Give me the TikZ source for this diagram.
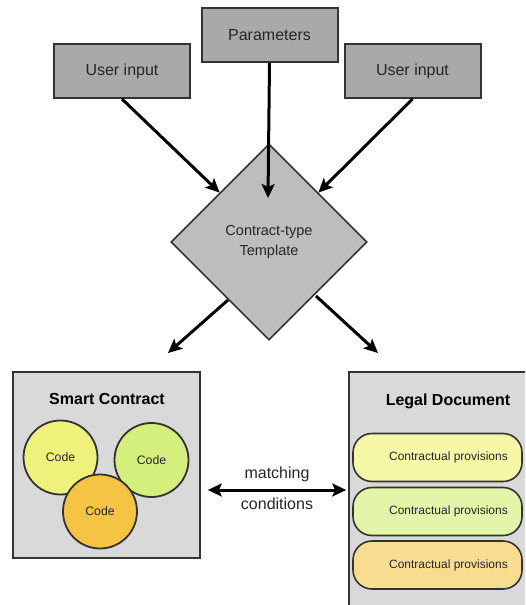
\documentclass[tikz,border=0pt]{standalone}
\usepackage{fontspec}
\setmainfont{Liberation Sans}
\usetikzlibrary{shapes.geometric,arrows.meta}
\definecolor{topgray}{HTML}{A9A9A9}
\definecolor{diagray}{HTML}{BDBDBD}
\definecolor{boxgray}{HTML}{D9D9D9}
\definecolor{edge}{HTML}{333333}
\definecolor{txt}{HTML}{262626}
\definecolor{cyel}{HTML}{EEF27A}
\definecolor{cgrn}{HTML}{D4EF7E}
\definecolor{corg}{HTML}{F5C443}
\definecolor{pyel}{HTML}{F7F7A8}
\definecolor{pgrn}{HTML}{E2F5A8}
\definecolor{porg}{HTML}{F8DC90}
\begin{document}
\begin{tikzpicture}[x=1pt,y=-1pt,
  topbox/.style={draw=edge,line width=2pt,fill=topgray,minimum width=136pt,minimum height=54pt,inner sep=0pt,text=txt,font=\fontsize{16}{19}\selectfont},
  bigbox/.style={draw=edge,line width=1.6pt,fill=boxgray,inner sep=0pt},
  title/.style={text=black,font=\bfseries\fontsize{16}{19}\selectfont},
  codec/.style={circle,draw=edge,line width=1.8pt,minimum size=74pt,inner sep=0pt,text=txt,font=\fontsize{12.3}{14}\selectfont},
  pill/.style={draw=edge,line width=1.6pt,rounded corners=19pt,minimum width=169pt,minimum height=48pt,inner sep=0pt},
  ptext/.style={text=txt,font=\fontsize{12}{14}\selectfont},
  arr/.style={line width=3pt,-{Stealth[length=14pt,width=13pt,inset=3pt]}},
  darr/.style={line width=3pt,{Stealth[length=14pt,width=13pt,inset=3pt]}-{Stealth[length=14pt,width=13pt,inset=3pt]}}
]
\useasboundingbox (0,0) rectangle (525,605);
\clip (0,0) rectangle (525,605);
\fill[white] (0,0) rectangle (525,605);

\node[topbox] (par) at (269.5,35) {Parameters};
\node[topbox] (ul) at (122,71) {User input};
\node[topbox] (ur) at (412.5,71) {User input};

\node[diamond,aspect=1,draw=edge,line width=1.6pt,fill=diagray,minimum width=196pt,minimum height=196pt,inner sep=0pt,text=txt,align=center,font=\fontsize{14.5}{20}\selectfont] (tpl) at (269,242) {Contract-type\\Template};

\coordinate (pend) at (268,198);
\draw[arr] (ul.south) -- (tpl.north west);
\draw[arr] (ur.south) -- (tpl.north east);
\draw[arr] (par.south) -- (pend);

\coordinate (lend) at (168,353);
\coordinate (rend) at (378,353);
\coordinate (lsta) at (228,300);
\coordinate (rsta) at (316,296);
\draw[arr] (lsta) -- (lend);
\draw[arr] (rsta) -- (rend);

\node[bigbox,minimum width=187pt,minimum height=186pt] (sc) at (106.5,465) {};
\node[title] (sct) at (107,399) {Smart Contract};
\node[codec,fill=cyel] (c1) at (60.5,457.5) {Code};
\node[codec,fill=cgrn] (c2) at (151.5,460) {Code};
\node[codec,fill=corg] (c3) at (100,511.5) {Code};

\node[bigbox,minimum width=198pt,minimum height=250pt] (ld) at (448,497) {};
\node[title] (ldt) at (448,401) {Legal Document};
\node[pill,fill=pyel] (p1) at (437.5,457.5) {};
\node[pill,fill=pgrn] (p2) at (437.5,511.5) {};
\node[pill,fill=porg] (p3) at (437.5,565) {};
\node[ptext] (t1) at (448.5,457.5) {Contractual provisions};
\node[ptext] (t2) at (448.5,511.5) {Contractual provisions};
\node[ptext] (t3) at (448.5,565) {Contractual provisions};

\coordinate (mid) at (277,490);
\draw[darr,shorten <=7pt,shorten >=2pt] (sc.east |- mid) -- (ld.west |- mid);
\node[text=txt,font=\fontsize{16}{19}\selectfont] (m1) at (277,474) {matching};
\node[text=txt,font=\fontsize{16}{19}\selectfont] (m2) at (277,504) {conditions};
\end{tikzpicture}
\end{document}
